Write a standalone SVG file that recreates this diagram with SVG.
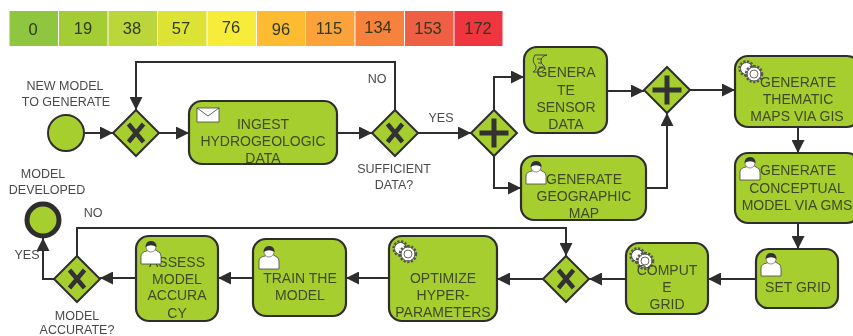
<svg xmlns="http://www.w3.org/2000/svg" width="853" height="336" viewBox="0 0 853 336">
<style>
text{font-family:"Liberation Sans",Arial,sans-serif;text-anchor:middle}
.t{font-size:14px;fill:#3f4a28}
.l{font-size:12.5px;fill:#4a4a4a}
.c{font-size:16.500px;fill:#2f3a1a}
.b{fill:#a6ce2f;stroke:#2f2f2f;stroke-width:2.2}
.g{fill:#a6ce2f;stroke:#2f2f2f;stroke-width:2}
.e{fill:none;stroke:#2f2f2f;stroke-width:2;marker-end:url(#a)}
.i{fill:#fff;stroke:#444;stroke-width:.8}
.r{fill:#fff;stroke:#555;stroke-width:1}
</style>
<defs>
<filter id="s" x="0" y="0" width="100%" height="100%"><feGaussianBlur stdDeviation=".4"/></filter>
<marker id="a" viewBox="0 0 12 12" refX="12" refY="6" markerWidth="13" markerHeight="13" markerUnits="userSpaceOnUse" orient="auto"><path d="M0 0L12 6L0 12Z" fill="#2f2f2f"/></marker>
<g id="d"><path class="g" d="M0 -23L23 0L0 23L-23 0Z"/></g>
<g id="x"><use href="#d"/><path d="M-7.500 -9L7.500 9M7.500 -9L-7.500 9" stroke="#333" stroke-width="4.500" fill="none"/></g>
<g id="p"><use href="#d"/><path d="M0 -14.500V14.500M-14.500 0H14.500" stroke="#333" stroke-width="5" fill="none"/></g>
<g id="u"><path class="i" d="M0 21V13Q0 9 6 8L10 6H13L16 8Q20 9 20 13V21Z"/><circle cx="10" cy="4" r="5" fill="#fff" stroke="#444" stroke-width=".6"/><path d="M4.500 4Q5 -2.500 10.500 -2Q15.500 -1.500 15.500 4Q10 .500 4.500 4Z" fill="#333"/></g>
<g id="w"><circle cx="7.500" cy="7.500" r="6" class="r"/><circle cx="7.500" cy="7.500" r="7" fill="none" stroke="#555" stroke-width="2.500" stroke-dasharray="2.200 1.500"/><circle cx="15" cy="13" r="7" class="r"/><circle cx="15" cy="13" r="8" fill="none" stroke="#555" stroke-width="2.500" stroke-dasharray="2.200 1.500"/><circle cx="15" cy="13" r="4" class="i"/></g>
</defs>
<g filter="url(#s)">
<g id="legend">
<rect x="9.500" y="11" width="48.500" height="35" fill="#8fc63f"/><rect x="59" y="11" width="48.500" height="35" fill="#a3cc35"/><rect x="108.500" y="11" width="48.500" height="35" fill="#bbd63a"/><rect x="158" y="11" width="48.500" height="35" fill="#dde336"/><rect x="207.500" y="11" width="48.500" height="35" fill="#f8ec3a"/><rect x="257" y="11" width="48.500" height="35" fill="#fdbb33"/><rect x="306" y="11" width="48.500" height="35" fill="#fba23a"/><rect x="355.500" y="11" width="48.500" height="35" fill="#f6823c"/><rect x="405" y="11" width="48.500" height="35" fill="#ee5f45"/><rect x="454.500" y="11" width="48" height="35" fill="#ee3540"/>
<text class="c" x="33" y="35">0</text><text class="c" x="83" y="34">19</text><text class="c" x="132" y="34">38</text><text class="c" x="181" y="34">57</text><text class="c" x="231" y="33">76</text><text class="c" x="281" y="35">96</text><text class="c" x="329" y="34">115</text><text class="c" x="378" y="33">134</text><text class="c" x="428" y="34">153</text><text class="c" x="478" y="34">172</text>
</g>
<g id="connectors">
<path class="e" d="M85 133H113"/>
<path class="e" d="M159 133H189"/>
<path class="e" d="M337 133H372"/>
<path class="e" d="M418 133H471"/>
<path class="e" d="M395 110V62H136V110"/>
<path class="e" d="M494 110V77H524"/>
<path class="e" d="M494 156V188H521"/>
<path class="e" d="M607 91H644"/>
<path class="e" d="M646 188H667V113"/>
<path class="e" d="M690 90H735"/>
<path class="e" d="M798 127V153"/>
<path class="e" d="M798 223V249"/>
<path class="e" d="M756 279H708"/>
<path class="e" d="M626 279H589"/>
<path class="e" d="M543 279H497"/>
<path class="e" d="M389 278H346"/>
<path class="e" d="M253 278H218"/>
<path class="e" d="M136 278H100"/>
<path class="e" d="M54 279H43V238"/>
<path class="e" d="M77 256V228H566V256"/>
</g>
<g id="start"><circle class="g" cx="66" cy="133" r="18"/><text class="l" x="65" y="90">NEW MODEL</text><text class="l" x="66" y="106">TO GENERATE</text></g>
<g id="gw1"><use href="#x" x="136" y="133"/></g>
<g id="ingest"><rect class="b" x="189" y="101" width="148" height="63" rx="13"/><rect class="i" x="197" y="108" width="22" height="14"/><path d="M197 108L208 116L219 108" fill="none" stroke="#444" stroke-width=".8"/><text class="t" x="263" y="129">INGEST</text><text class="t" x="263" y="146">HYDROGEOLOGIC</text><text class="t" x="263" y="163">DATA</text></g>
<g id="gw2"><use href="#x" x="395" y="133"/><text class="l" x="394" y="173">SUFFICIENT</text><text class="l" x="394" y="189">DATA?</text><text class="l" x="377" y="83">NO</text><text class="l" x="441" y="122">YES</text></g>
<g id="split"><use href="#p" x="494" y="133"/></g>
<g id="sensor"><rect class="b" x="524" y="47" width="83" height="86" rx="13"/><path d="M535 55H547Q541 56 541 61Q541 64 544 66Q546 70 541 72H533Q537 70 536 66Q531 61 535 55ZM537 59H542M538 63H542M539 67H543" fill="none" stroke="#444" stroke-width="1"/><text class="t" x="566" y="77">GENERA</text><text class="t" x="566" y="95">TE</text><text class="t" x="566" y="112">SENSOR</text><text class="t" x="566" y="129">DATA</text></g>
<g id="geo"><rect class="b" x="521" y="156" width="125" height="64" rx="13"/><use href="#u" x="526" y="163"/><text class="t" x="584" y="184">GENERATE</text><text class="t" x="584" y="201">GEOGRAPHIC</text><text class="t" x="584" y="218">MAP</text></g>
<g id="join"><use href="#p" x="667" y="90"/></g>
<g id="thematic"><rect class="b" x="735" y="56" width="125" height="71" rx="13"/><use href="#w" x="739" y="61"/><text class="t" x="798" y="87">GENERATE</text><text class="t" x="798" y="104">THEMATIC</text><text class="t" x="797" y="121">MAPS VIA GIS</text></g>
<g id="conceptual"><rect class="b" x="735" y="153" width="125" height="70" rx="13"/><use href="#u" x="740" y="159"/><text class="t" x="798" y="175">GENERATE</text><text class="t" x="797" y="193">CONCEPTUAL</text><text class="t" x="797" y="210">MODEL VIA GMS</text></g>
<g id="setgrid"><rect class="b" x="756" y="249" width="82" height="59" rx="12"/><use href="#u" x="761" y="255"/><text class="t" x="798" y="292">SET GRID</text></g>
<g id="compute"><rect class="b" x="626" y="243" width="82" height="71" rx="13"/><use href="#w" x="630" y="248"/><text class="t" x="667" y="275">COMPUT</text><text class="t" x="667" y="292">E</text><text class="t" x="667" y="309">GRID</text></g>
<g id="gw3"><use href="#x" x="566" y="279"/></g>
<g id="optimize"><rect class="b" x="389" y="236" width="108" height="85" rx="13"/><use href="#w" x="393" y="241"/><text class="t" x="443" y="283">OPTIMIZE</text><text class="t" x="443" y="300">HYPER-</text><text class="t" x="443" y="317">PARAMETERS</text></g>
<g id="train"><rect class="b" x="253" y="239" width="93" height="77" rx="13"/><use href="#u" x="259" y="248"/><text class="t" x="300" y="283">TRAIN THE</text><text class="t" x="300" y="300">MODEL</text></g>
<g id="assess"><text class="t" x="177" y="267"></text><rect class="b" x="136" y="236" width="82" height="85" rx="13"/><text class="t" x="177" y="267">ASSESS</text><use href="#u" x="141" y="243"/><text class="t" x="177" y="284">MODEL</text><text class="t" x="177" y="300">ACCURA</text><text class="t" x="177" y="318">CY</text></g>
<g id="gw4"><use href="#x" x="77" y="279"/><text class="l" x="77" y="320">MODEL</text><text class="l" x="77" y="333.500">ACCURATE?</text><text class="l" x="93" y="217">NO</text><text class="l" x="27" y="259">YES</text></g>
<g id="end"><circle cx="43" cy="220" r="16" fill="#a6ce2f" stroke="#2f2f2f" stroke-width="5"/><text class="l" x="43" y="178">MODEL</text><text class="l" x="47" y="194">DEVELOPED</text></g>
</g>
</svg>
